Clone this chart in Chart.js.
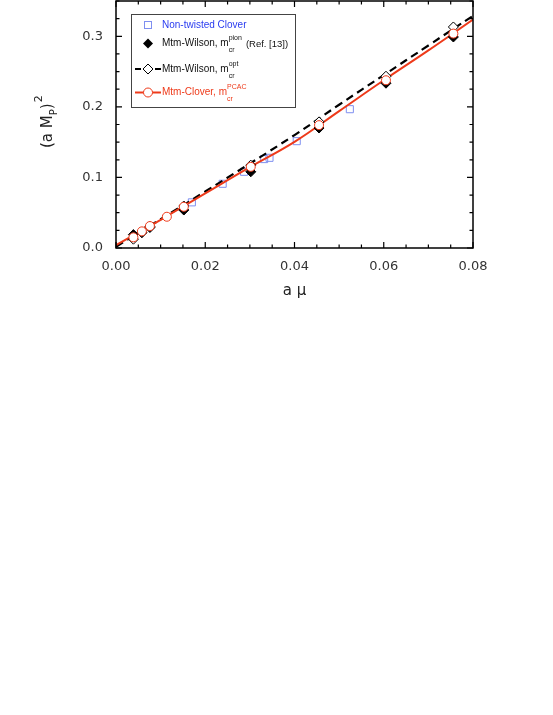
<!DOCTYPE html>
<html>
<head>
<meta charset="utf-8">
<script src="https://cdn.jsdelivr.net/npm/chart.js@4.4.1/dist/chart.umd.min.js"></script>
<style>
  body { margin: 0; background: #fff; }
  canvas { display: block; }
</style>
</head>
<body>
<canvas id="chart" width="553" height="715"></canvas>
<script>
// Data
const cloverX = [0.0170, 0.0239, 0.0287, 0.0332, 0.0344, 0.0405, 0.0524];
const cloverY = [0.0647, 0.0910, 0.1080, 0.1260, 0.1278, 0.1514, 0.1967];

const pionX = [0.0039, 0.0058, 0.0076, 0.0152, 0.0302, 0.0455, 0.0605, 0.0756];
const pionY = [0.0190, 0.0216, 0.0290, 0.0538, 0.1080, 0.1700, 0.2335, 0.2990];

const optX = [0.0039, 0.0058, 0.0076, 0.0152, 0.0302, 0.0455, 0.0605, 0.0756];
const optY = [0.0125, 0.0225, 0.0305, 0.0595, 0.1174, 0.1787, 0.2434, 0.3132];

const pcacX = [0.0039, 0.0058, 0.0076, 0.0114, 0.0152, 0.0302, 0.0455, 0.0605, 0.0756];
const pcacY = [0.0151, 0.0236, 0.0311, 0.0443, 0.0584, 0.1150, 0.1741, 0.2377, 0.3038];

// fit curves
const optFitX = [0.0, 0.02, 0.04, 0.05, 0.06, 0.07, 0.08];
const optFitY = [0.0018, 0.080, 0.160, 0.203, 0.245, 0.287, 0.329];
const pcacFitX = [0.0, 0.01, 0.02, 0.03, 0.04, 0.05, 0.06, 0.07, 0.08];
const pcacFitY = [0.0042, 0.040, 0.0774, 0.1145, 0.1504, 0.1940, 0.2377, 0.2800, 0.3236];

const xTicks = [0, 0.02, 0.04, 0.06, 0.08];
const yTicks = [0, 0.1, 0.2, 0.3];

const BLUE = '#7f8ff0';
const RED = '#ee3a1a';
const FONT = '"DejaVu Sans", sans-serif';

const pts = (xs, ys) => xs.map((x, i) => ({ x: x, y: ys[i] }));

// frame, inward ticks, axis titles and legend
const decor = {
    id: 'decor',
    afterDraw(chart) {
        const ctx = chart.ctx;
        const a = chart.chartArea;
        const xs = chart.scales.x, ys = chart.scales.y;
        ctx.save();
        ctx.strokeStyle = '#000';
        ctx.lineWidth = 1.5;
        ctx.strokeRect(a.left, a.top, a.right - a.left, a.bottom - a.top);

        ctx.lineWidth = 1.2;
        ctx.beginPath();
        for (let i = 0; i <= 16; i++) {
            const v = i * 0.005;
            const px = xs.getPixelForValue(v);
            const len = i % 4 === 0 ? 6 : 3.5;
            ctx.moveTo(px, a.bottom); ctx.lineTo(px, a.bottom - len);
            ctx.moveTo(px, a.top); ctx.lineTo(px, a.top + len);
        }
        for (let i = 0; i <= 14; i++) {
            const v = i * 0.025;
            const py = ys.getPixelForValue(v);
            const len = i % 4 === 0 ? 6 : 3.5;
            ctx.moveTo(a.left, py); ctx.lineTo(a.left + len, py);
            ctx.moveTo(a.right, py); ctx.lineTo(a.right - len, py);
        }
        ctx.stroke();

        // x title
        ctx.fillStyle = '#222';
        ctx.font = '15px ' + FONT;
        ctx.textAlign = 'center';
        ctx.textBaseline = 'middle';
        ctx.fillText('a \u03bc', (a.left + a.right) / 2, 291);

        // y title (rotated)
        ctx.save();
        ctx.translate(52, 120);
        ctx.rotate(-Math.PI / 2);
        ctx.textAlign = 'left';
        ctx.textBaseline = 'alphabetic';
        let t = '(a M';
        let w = ctx.measureText(t).width;
        const x0 = -28;
        ctx.fillText(t, x0, 0);
        ctx.font = '10px ' + FONT;
        ctx.fillText('P', x0 + w, 5);
        const wp = ctx.measureText('P').width;
        ctx.font = '15px ' + FONT;
        ctx.fillText(')', x0 + w + wp, 0);
        const wb = ctx.measureText(')').width;
        ctx.font = '11px ' + FONT;
        ctx.fillText('2', x0 + w + wp + wb + 1, -10);
        ctx.restore();

        // legend
        ctx.lineWidth = 1;
        ctx.strokeStyle = '#444';
        ctx.fillStyle = '#fff';
        ctx.fillRect(131.5, 14.5, 164, 93);
        ctx.strokeRect(131.5, 14.5, 164, 93);

        const mx = 148, tx = 162;
        const LF = '10px "Liberation Sans", Arial, sans-serif';
        const SF = '7px "Liberation Sans", Arial, sans-serif';
        ctx.textAlign = 'left';
        ctx.textBaseline = 'middle';

        // row 1
        ctx.strokeStyle = BLUE; ctx.lineWidth = 1;
        ctx.strokeRect(mx - 3.5, 25 - 3.5, 7, 7);
        ctx.fillStyle = '#2a3cf0'; ctx.font = LF;
        ctx.fillText('Non-twisted Clover', tx, 25);

        const mcr = (y, name, sup, color) => {
            ctx.fillStyle = color;
            ctx.font = LF;
            const lead = name + ', m';
            ctx.fillText(lead, tx, y);
            const w = ctx.measureText(lead).width;
            ctx.font = SF;
            ctx.fillText('cr', tx + w, y + 7);
            ctx.fillText(sup, tx + w, y - 5);
            return tx + w + Math.max(ctx.measureText(sup).width, ctx.measureText('cr').width);
        };

        // row 2
        ctx.fillStyle = '#000';
        ctx.beginPath();
        ctx.moveTo(mx, 43.5 - 5); ctx.lineTo(mx + 5, 43.5); ctx.lineTo(mx, 43.5 + 5); ctx.lineTo(mx - 5, 43.5);
        ctx.closePath(); ctx.fill();
        let end = mcr(43.5, 'Mtm-Wilson', 'pion', '#111');
        ctx.font = '9.5px "Liberation Sans", Arial, sans-serif';
        ctx.fillText('(Ref. [13])', end + 4, 44);

        // row 3
        ctx.strokeStyle = '#000'; ctx.lineWidth = 2;
        ctx.setLineDash([6, 4]);
        ctx.beginPath(); ctx.moveTo(135, 69); ctx.lineTo(162, 69); ctx.stroke();
        ctx.setLineDash([]);
        ctx.fillStyle = '#fff'; ctx.lineWidth = 1;
        ctx.beginPath();
        ctx.moveTo(mx, 69 - 5); ctx.lineTo(mx + 5, 69); ctx.lineTo(mx, 69 + 5); ctx.lineTo(mx - 5, 69);
        ctx.closePath(); ctx.fill(); ctx.stroke();
        mcr(69, 'Mtm-Wilson', 'opt', '#111');

        // row 4
        ctx.strokeStyle = RED; ctx.lineWidth = 2;
        ctx.beginPath(); ctx.moveTo(135, 92.5); ctx.lineTo(161, 92.5); ctx.stroke();
        ctx.fillStyle = '#fff'; ctx.lineWidth = 1;
        ctx.beginPath(); ctx.arc(mx, 92.5, 4.5, 0, Math.PI * 2); ctx.fill(); ctx.stroke();
        mcr(92.5, 'Mtm-Clover', 'PCAC', RED);

        ctx.restore();
    }
};

window.addEventListener('DOMContentLoaded', () => {
    new Chart(document.getElementById('chart'), {
        type: 'scatter',
        data: {
            datasets: [
                {
                    label: 'Mtm-Clover, PCAC',
                    data: pts(pcacX, pcacY),
                    pointStyle: 'circle', pointRadius: 4.5,
                    borderColor: RED, backgroundColor: '#fff', borderWidth: 1,
                    order: 1
                },
                {
                    label: 'Mtm-Wilson, opt',
                    data: pts(optX, optY),
                    pointStyle: 'rectRot', pointRadius: 5,
                    borderColor: '#000', backgroundColor: '#fff', borderWidth: 1,
                    order: 2
                },
                {
                    label: 'Mtm-Wilson, pion',
                    data: pts(pionX, pionY),
                    pointStyle: 'rectRot', pointRadius: 5,
                    borderColor: '#000', backgroundColor: '#000', borderWidth: 1,
                    order: 3
                },
                {
                    label: 'fit PCAC',
                    data: pts(pcacFitX, pcacFitY),
                    showLine: true, pointRadius: 0, tension: 0.4,
                    borderColor: RED, borderWidth: 2, fill: false,
                    order: 4
                },
                {
                    label: 'fit opt',
                    data: pts(optFitX, optFitY),
                    showLine: true, pointRadius: 0, tension: 0.4,
                    borderColor: '#000', borderWidth: 2.2, borderDash: [8, 5], fill: false,
                    order: 5
                },
                {
                    label: 'Non-twisted Clover',
                    data: pts(cloverX, cloverY),
                    pointStyle: 'rect', pointRadius: 5,
                    borderColor: BLUE, backgroundColor: 'rgba(255,255,255,0)', borderWidth: 1,
                    order: 6
                }
            ]
        },
        options: {
            responsive: false,
            animation: false,
            layout: { autoPadding: false, padding: { top: 1, right: 80, bottom: 427, left: 0 } },
            plugins: { legend: { display: false }, tooltip: { enabled: false } },
            scales: {
                x: {
                    type: 'linear', min: 0, max: 0.08,
                    grid: { display: false, drawTicks: false },
                    border: { display: false },
                    afterBuildTicks: (s) => { s.ticks = xTicks.map(v => ({ value: v })); },
                    afterFit: (s) => { s.height = 40; s.paddingLeft = 0; s.paddingRight = 0; },
                    ticks: {
                        padding: 11, color: '#333',
                        font: { family: FONT, size: 13 },
                        callback: (v) => v.toFixed(2),
                        maxRotation: 0
                    }
                },
                y: {
                    type: 'linear', min: 0, max: 0.35,
                    grid: { display: false, drawTicks: false },
                    border: { display: false },
                    afterBuildTicks: (s) => { s.ticks = yTicks.map(v => ({ value: v })); },
                    afterFit: (s) => { s.width = 116; s.paddingTop = 0; s.paddingBottom = 0; },
                    ticks: {
                        padding: 13, color: '#333',
                        font: { family: FONT, size: 13 },
                        callback: (v) => v.toFixed(1)
                    }
                }
            }
        },
        plugins: [decor]
    });
});
</script>
</body>
</html>
